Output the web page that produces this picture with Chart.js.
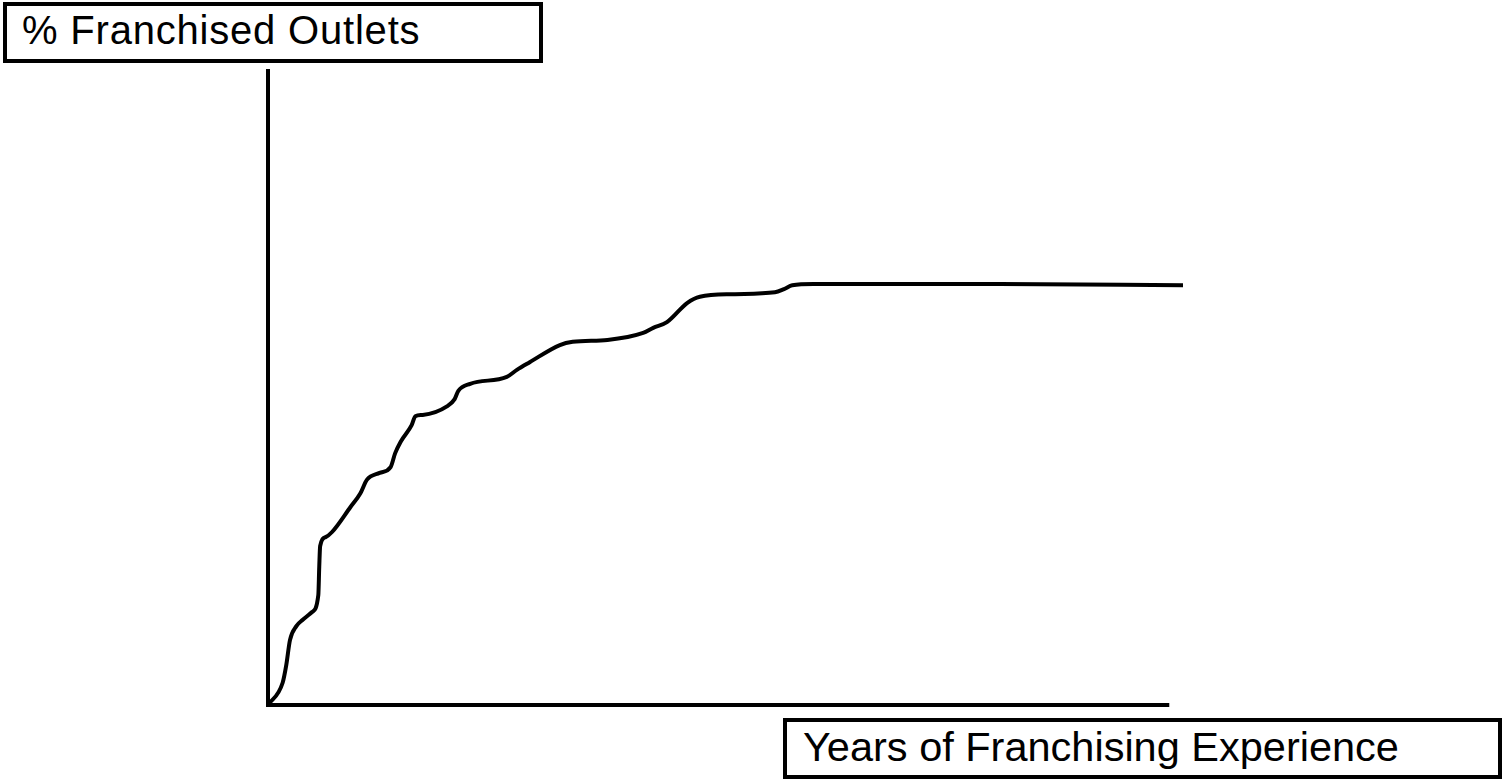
<!DOCTYPE html>
<html>
<head>
<meta charset="utf-8">
<script src="https://cdn.jsdelivr.net/npm/chart.js@4.4.1/dist/chart.umd.min.js"></script>
<style>
  html, body { margin: 0; padding: 0; background: #fff; }
  #wrap { position: relative; width: 1505px; height: 782px; }
  canvas { position: absolute; left: 0; top: 0; }
  .label-box {
    position: absolute;
    box-sizing: border-box;
    border: 4px solid #000;
    background: #fff;
    font-family: "Liberation Sans", Arial, sans-serif;
    color: #000;
    white-space: nowrap;
  }
  #yTitle { left: 3px; top: 2px; width: 540px; height: 61px; font-size: 40px; letter-spacing: 0.8px; line-height: 48px; padding-left: 15px; }
  #xTitle { left: 783px; top: 718px; width: 719px; height: 61px; font-size: 41.5px; line-height: 49px; padding-left: 16px; }
</style>
</head>
<body>
<div id="wrap">
  <canvas id="chart" width="1505" height="782"></canvas>
  <div id="yTitle" class="label-box">% Franchised Outlets</div>
  <div id="xTitle" class="label-box">Years of Franchising Experience</div>
</div>
<script>
// years of experience (relative units) and share of franchised outlets (relative %)
const years = [0, 1.6, 2.0, 2.4, 3.1, 3.8, 4.8, 5.5, 5.6, 5.7, 6.3, 7.0, 9.0, 10.1, 10.8, 12.2, 13.4, 13.9, 14.5, 15.7, 16.1, 16.9, 19.6, 20.4, 20.8, 22.1, 26.1, 27.2, 28.6, 31.9, 33.3, 37.1, 41.0, 42.1, 43.6, 45.8, 47.2, 50.8, 55.4, 56.4, 57.3, 59.6, 80, 100];
const franchised = [0, 3.5, 6.3, 10.2, 12.4, 13.4, 14.6, 17.3, 21.7, 25.0, 26.4, 27.2, 31.1, 33.3, 35.4, 36.5, 37.4, 39.6, 41.4, 44.0, 45.4, 45.6, 47.0, 48.1, 49.4, 50.5, 51.6, 52.7, 53.9, 56.6, 57.1, 57.4, 58.5, 59.3, 60.2, 63.2, 64.2, 64.6, 64.9, 65.4, 66.0, 66.2, 66.2, 66.0];
const xAxisEnd = 98.5;
const yAxisEnd = 100;

const axesPlugin = {
  id: "handAxes",
  afterDatasetsDraw(chart) {
    const { ctx, scales } = chart;
    const x0 = scales.x.getPixelForValue(0);
    const y0 = scales.y.getPixelForValue(0);
    ctx.save();
    ctx.strokeStyle = "#000";
    ctx.lineWidth = 4;
    ctx.lineCap = "butt";
    ctx.beginPath();
    ctx.moveTo(x0, scales.y.getPixelForValue(yAxisEnd));
    ctx.lineTo(x0, y0 + 2);
    ctx.moveTo(x0 - 2, y0);
    ctx.lineTo(scales.x.getPixelForValue(xAxisEnd), y0);
    ctx.stroke();
    ctx.restore();
  },
};

new Chart(document.getElementById("chart"), {
  type: "scatter",
  data: {
    datasets: [
      {
        data: years.map((x, i) => ({ x, y: franchised[i] })),
        showLine: true,
        borderColor: "#000",
        borderWidth: 4,
        pointRadius: 0,
        cubicInterpolationMode: "monotone",
        borderCapStyle: "round",
        borderJoinStyle: "round",
      },
    ],
  },
  options: {
    responsive: false,
    animation: false,
    layout: { padding: { left: 268, right: 322, top: 69, bottom: 77 } },
    plugins: { legend: { display: false }, tooltip: { enabled: false } },
    scales: {
      x: { type: "linear", min: 0, max: 100, display: false },
      y: { type: "linear", min: 0, max: 100, display: false },
    },
  },
  plugins: [axesPlugin],
});
</script>
</body>
</html>
